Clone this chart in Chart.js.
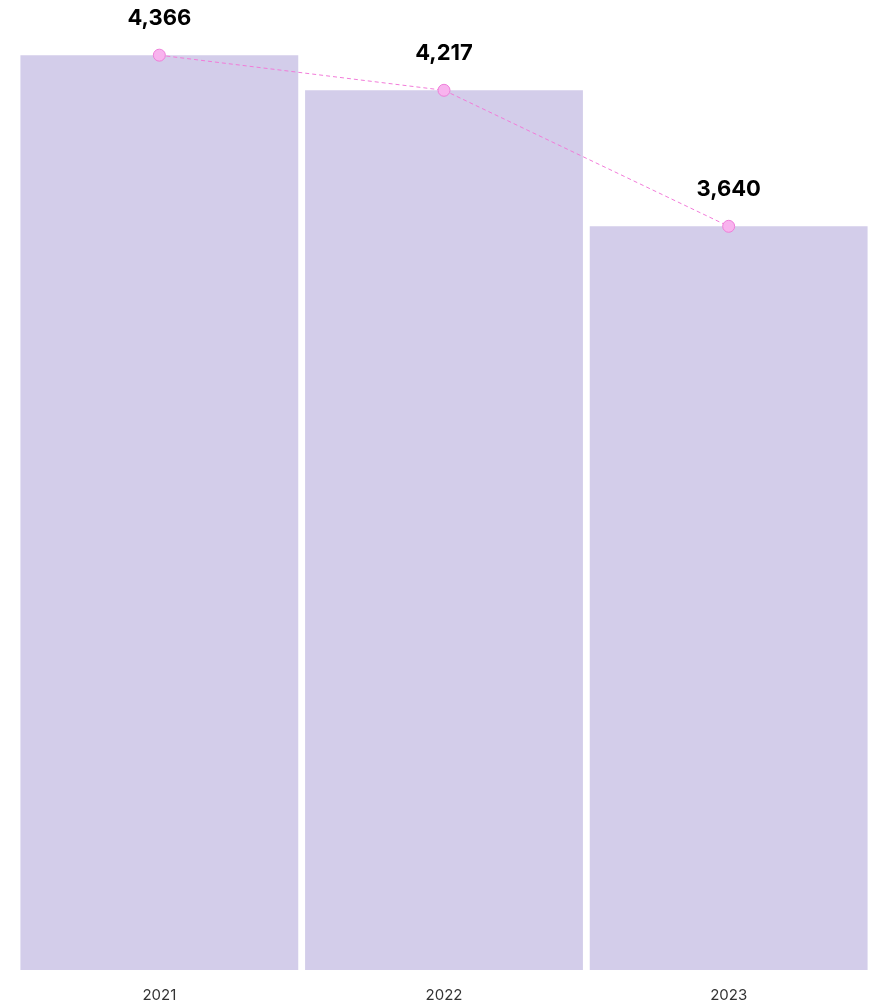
<!DOCTYPE html>
<html>
<head>
<meta charset="utf-8">
<script src="https://cdn.jsdelivr.net/npm/chart.js@4.4.0/dist/chart.umd.min.js"></script>
<style>
  html, body { margin: 0; padding: 0; background: #ffffff; overflow: hidden; }
  #wrap { width: 871px; height: 1003px; position: relative; }
  #chart { display: block; }
</style>
</head>
<body>
<div id="wrap"><canvas id="chart"></canvas></div>
<script>
// datos del gráfico
const years = ['2021', '2022', '2023'];
const values = [4366, 4217, 3640];

// etiquetas con el valor encima de cada punto
const valueLabels = {
    id: 'valueLabels',
    afterDatasetsDraw(chart) {
        const ctx = chart.ctx;
        const meta = chart.getDatasetMeta(1);
        ctx.save();
        ctx.font = 'bold 22px Inter';
        ctx.fillStyle = '#000000';
        ctx.textAlign = 'center';
        ctx.textBaseline = 'middle';
        meta.data.forEach((pt, i) => {
            ctx.fillText(values[i].toLocaleString('en-US'), pt.x, pt.y - 37);
        });
        ctx.restore();
    }
};

const ctx = document.getElementById('chart').getContext('2d');
new Chart(ctx, {
    type: 'bar',
    data: {
        labels: years,
        datasets: [
            {
                type: 'bar',
                data: values,
                backgroundColor: '#d3cdea',
                borderWidth: 0,
                barPercentage: 0.976,
                categoryPercentage: 1,
                order: 1
            },
            {
                type: 'line',
                data: values,
                borderColor: '#f27bd9',
                borderWidth: 1,
                borderDash: [4, 3],
                pointRadius: 6,
                pointBorderWidth: 1,
                pointBackgroundColor: '#f8b3ee',
                pointBorderColor: '#ee7fd9',
                tension: 0,
                clip: false,
                order: 0
            }
        ]
    },
    options: {
        responsive: true,
        maintainAspectRatio: false,
        animation: false,
        layout: {
            autoPadding: false,
            padding: { left: 17, right: 0, top: 0, bottom: -9 }
        },
        plugins: {
            legend: { display: false },
            tooltip: { enabled: false }
        },
        scales: {
            x: {
                grid: { display: false },
                border: { display: false },
                ticks: {
                    color: '#333333',
                    font: { family: 'Inter', size: 15 },
                    padding: 8
                }
            },
            y: {
                display: false,
                min: 485,
                max: 4600
            }
        }
    },
    plugins: [valueLabels]
});
</script>
</body>
</html>
